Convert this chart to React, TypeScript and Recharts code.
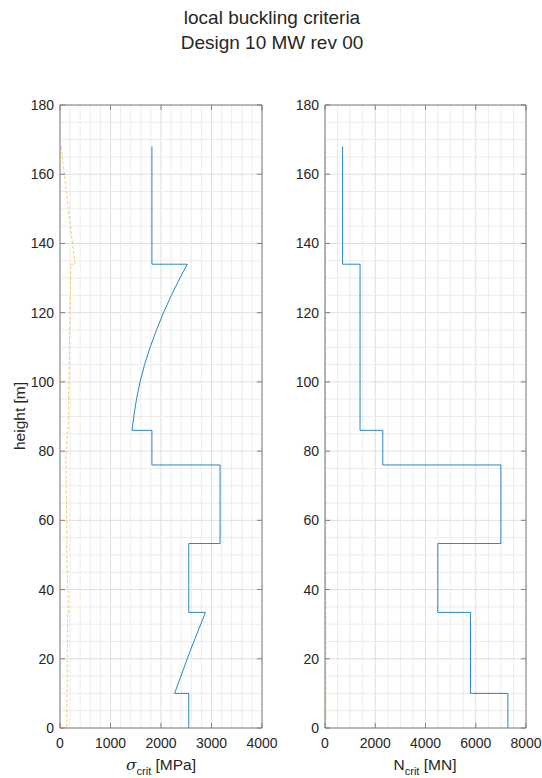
import React from 'react';
import { LineChart, Line, XAxis, YAxis, CartesianGrid, ReferenceLine } from 'recharts';

// ---- axis ticks ----
const heightTicks = [0, 20, 40, 60, 80, 100, 120, 140, 160, 180];
const heightMinor = [5, 10, 15, 25, 30, 35, 45, 50, 55, 65, 70, 75, 85, 90, 95, 105, 110, 115, 125, 130, 135, 145, 150, 155, 165, 170, 175];
const stressTicks = [0, 1000, 2000, 3000, 4000];
const stressMinor = [200, 400, 600, 800, 1200, 1400, 1600, 1800, 2200, 2400, 2600, 2800, 3200, 3400, 3600, 3800];
const forceTicks = [0, 2000, 4000, 6000, 8000];
const forceMinor = [500, 1000, 1500, 2500, 3000, 3500, 4500, 5000, 5500, 6500, 7000, 7500];

// ---- critical buckling stress [MPa] along tower height [m] ----
const sigmaCritHeight = [168, 134, 134, 130, 125, 120, 115, 110, 105, 100, 95, 91, 86, 86, 76, 76, 53.3, 53.3, 33.4, 33.4, 22, 10, 10, 0];
const sigmaCritValue = [1820, 1820, 2520, 2375, 2205, 2050, 1910, 1785, 1675, 1585, 1515, 1471, 1426, 1820, 1820, 3170, 3170, 2550, 2550, 2880, 2570, 2270, 2550, 2550];

// ---- design stress [MPa] ----
const sigmaEdHeight = [168, 134, 134, 86, 86, 76, 76, 53.3, 53.3, 33.4, 33.4, 10, 10, 0];
const sigmaEdValue = [20, 297, 215, 160, 150, 110, 120, 135, 130, 165, 150, 140, 135, 132];

// ---- critical buckling force [MN] ----
const nCritHeight = [168, 134, 134, 86, 86, 76, 76, 53.3, 53.3, 33.4, 33.4, 10, 10, 0];
const nCritValue = [700, 700, 1395, 1395, 2300, 2300, 7000, 7000, 4490, 4490, 5790, 5790, 7280, 7280];

// ---- design force [MN] ----
const nEdHeight = [168, 134, 134, 86, 76, 53.3, 33.4, 10, 0];
const nEdValue = [3, 20, 18, 20, 22, 25, 28, 30, 30];

type Pt = { v: number; h: number };
const toPoints = (hs: number[], vs: number[]): Pt[] => hs.map((h, i) => ({ h, v: vs[i] }));

const sigmaCritData = toPoints(sigmaCritHeight, sigmaCritValue);
const sigmaEdData = toPoints(sigmaEdHeight, sigmaEdValue);
const nCritData = toPoints(nCritHeight, nCritValue);
const nEdData = toPoints(nEdHeight, nEdValue);

const textColor = '#262626';
const axisColor = '#808080';
const majorGrid = '#dedede';
const minorGrid = '#ececec';
const blue = '#0072BD';
const yellow = '#EDB120';
const font = '"Liberation Sans", Arial, Helvetica, sans-serif';

const PLOT_TOP = 105;
const CHART_H = 778;
const XAXIS_H = 50;

const makeYTick = (plotRight: number) => (props: any) => {
  const { x, y, payload } = props;
  return (
    <g>
      <line x1={x} x2={x + 5} y1={y} y2={y} stroke={axisColor} />
      <line x1={plotRight} x2={plotRight - 5} y1={y} y2={y} stroke={axisColor} />
      <text x={x - 6} y={y} dy={5} textAnchor="end" fontSize={14} fill={textColor} fontFamily={font}>
        {payload.value}
      </text>
    </g>
  );
};

const makeXTick = () => (props: any) => {
  const { x, y, payload } = props;
  return (
    <g>
      <line x1={x} x2={x} y1={y} y2={y - 5} stroke={axisColor} />
      <line x1={x} x2={x} y1={PLOT_TOP} y2={PLOT_TOP + 5} stroke={axisColor} />
      <text x={x} y={y + 20} textAnchor="middle" fontSize={14} fill={textColor} fontFamily={font}>
        {payload.value}
      </text>
    </g>
  );
};

type PanelProps = {
  left: number;
  width: number;
  yAxisWidth: number;
  rightMargin: number;
  xMax: number;
  xTicks: number[];
  xMinor: number[];
  crit: Pt[];
  design: Pt[];
};

function Panel({ left, width, yAxisWidth, rightMargin, xMax, xTicks, xMinor, crit, design }: PanelProps) {
  const plotRight = width - rightMargin;
  return (
    <div style={{ position: 'absolute', left, top: 0 }}>
      <LineChart
        width={width}
        height={CHART_H}
        margin={{ top: PLOT_TOP, right: rightMargin, bottom: 0, left: 0 }}
      >
        {xMinor.map((v) => (
          <ReferenceLine key={'mx' + v} x={v} stroke={minorGrid} strokeWidth={1} />
        ))}
        {heightMinor.map((v) => (
          <ReferenceLine key={'my' + v} y={v} stroke={minorGrid} strokeWidth={1} />
        ))}
        <CartesianGrid stroke={majorGrid} />
        <XAxis
          type="number"
          dataKey="v"
          domain={[0, xMax]}
          ticks={xTicks}
          interval={0}
          height={XAXIS_H}
          tickSize={0}
          tickMargin={0}
          tickLine={false}
          axisLine={{ stroke: axisColor }}
          tick={makeXTick()}
        />
        <YAxis
          type="number"
          dataKey="h"
          domain={[0, 180]}
          ticks={heightTicks}
          interval={0}
          width={yAxisWidth}
          tickSize={0}
          tickMargin={0}
          tickLine={false}
          axisLine={{ stroke: axisColor }}
          tick={makeYTick(plotRight)}
        />
        <ReferenceLine x={xMax} stroke={axisColor} />
        <ReferenceLine y={180} stroke={axisColor} />
        <Line
          data={design}
          dataKey="h"
          type="linear"
          stroke={yellow}
          strokeOpacity={0.65}
          strokeWidth={1}
          strokeDasharray="3 2"
          dot={false}
          activeDot={false}
          isAnimationActive={false}
        />
        <Line
          data={crit}
          dataKey="h"
          type="linear"
          stroke={blue}
          strokeOpacity={0.85}
          strokeWidth={1}
          dot={false}
          activeDot={false}
          isAnimationActive={false}
        />
      </LineChart>
    </div>
  );
}

export default function App() {
  return (
    <div
      style={{
        position: 'absolute',
        left: 0,
        top: 0,
        width: 542,
        height: 778,
        background: '#ffffff',
        fontFamily: font,
        overflow: 'hidden',
      }}
    >
      <Panel
        left={0}
        width={290}
        yAxisWidth={60}
        rightMargin={28}
        xMax={4000}
        xTicks={stressTicks}
        xMinor={stressMinor}
        crit={sigmaCritData}
        design={sigmaEdData}
      />
      <Panel
        left={270}
        width={272}
        yAxisWidth={55}
        rightMargin={16}
        xMax={8000}
        xTicks={forceTicks}
        xMinor={forceMinor}
        crit={nCritData}
        design={nEdData}
      />
      <svg
        width={542}
        height={778}
        style={{ position: 'absolute', left: 0, top: 0, pointerEvents: 'none' }}
        fontFamily={font}
        fill={textColor}
      >
        <text x={272} y={24} textAnchor="middle" fontSize={19}>local buckling criteria</text>
        <text x={272} y={49} textAnchor="middle" fontSize={19}>Design 10 MW rev 00</text>
        <text x={161} y={770} textAnchor="middle" fontSize={15.5}>
          <tspan fontStyle="italic" fontFamily='"DejaVu Serif", serif'>σ</tspan>
          <tspan fontSize={11} dy={5}>crit</tspan>
          <tspan dy={-5}> [MPa]</tspan>
        </text>
        <text x={425} y={770} textAnchor="middle" fontSize={15.5}>
          <tspan>N</tspan>
          <tspan fontSize={11} dy={5}>crit</tspan>
          <tspan dy={-5}> [MN]</tspan>
        </text>
        <text transform="translate(25,416) rotate(-90)" textAnchor="middle" fontSize={15.5}>
          height [m]
        </text>
      </svg>
    </div>
  );
}
